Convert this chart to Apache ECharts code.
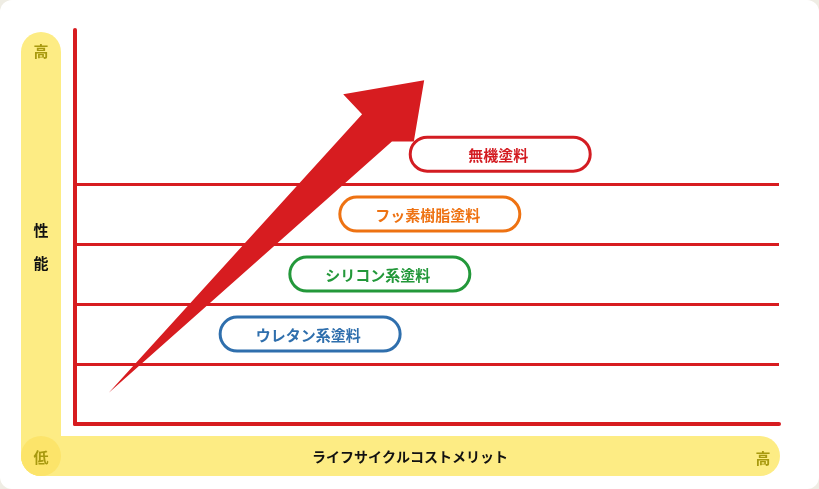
<!DOCTYPE html>
<html>
<head>
<meta charset="utf-8">
<script src="https://cdn.jsdelivr.net/npm/echarts@6/dist/echarts.min.js"></script>
<style>
  html, body { margin: 0; padding: 0; background: #efede4; }
  #main { width: 819px; height: 489px; background: #fff; border-radius: 12px; }
</style>
</head>
<body>
<div id="main"></div>
<script>
  // 塗料の種類（性能の低い順）
  var paintNames = ['ウレタン系塗料', 'シリコン系塗料', 'フッ素樹脂塗料', '無機塗料'];
  // x: ライフサイクルコストメリット(0-10), y: 性能
  var paintCost = [3.34, 4.33, 5.04, 6.04];
  var paintPerf = [1.5, 2.5, 3.5, 4.5];
  // 区切り線の位置
  var levelLines = [1, 2, 3, 4];
  // 矢印 始点→終点
  var arrowFrom = [0.48, 0.52];
  var arrowTo = [4.96, 5.73];

  var paintColors = ['#2f6fad', '#23983a', '#ee7212', '#d31c22'];
  var red = '#d71c20';
  var font = '"Noto Sans CJK JP", "Noto Sans", sans-serif';

  var myChart = echarts.init(document.getElementById('main'));

  // 矢印の形（先端方向の長さ445pxを基準にした輪郭）
  var arrowShape = [[0, 0], [379, 20.7], [394.5, 36.2], [445, 0], [377.5, -47.2], [376.8, -19.6]];

  function renderArrow(params, api) {
    var a = api.coord([api.value(0), api.value(1)]);
    var b = api.coord([api.value(2), api.value(3)]);
    var dx = b[0] - a[0], dy = b[1] - a[1];
    var len = Math.sqrt(dx * dx + dy * dy);
    var ux = dx / len, uy = dy / len, nx = -uy, ny = ux;
    var k = len / 445;
    var pts = arrowShape.map(function (p) {
      return [a[0] + (p[0] * ux + p[1] * nx) * k, a[1] + (p[0] * uy + p[1] * ny) * k];
    });
    return { type: 'polygon', shape: { points: pts }, style: { fill: red } };
  }

  function renderLabel(params, api) {
    var p = api.coord([api.value(0), api.value(1)]);
    var c = paintColors[params.dataIndex];
    return {
      type: 'group',
      children: [{
        type: 'rect',
        shape: { x: p[0] - 90, y: p[1] - 17, width: 180, height: 34, r: 17 },
        style: { fill: '#fff', stroke: c, lineWidth: 3 }
      }, {
        type: 'text',
        x: p[0] - 2, y: p[1] + 1,
        style: {
          text: paintNames[params.dataIndex], fill: c, font: 'bold 15px ' + font,
          align: 'center', verticalAlign: 'middle'
        }
      }]
    };
  }

  var labelData = paintNames.map(function (n, i) { return [paintCost[i], paintPerf[i]]; });

  var option = {
    animation: false,
    grid: { left: 75, right: 40, top: 30, bottom: 65 },
    xAxis: {
      type: 'value', min: 0, max: 10,
      axisLine: { lineStyle: { color: red, width: 4 } },
      axisTick: { show: false }, axisLabel: { show: false }, splitLine: { show: false }
    },
    yAxis: {
      type: 'value', min: 0, max: 6.57,
      axisLine: { show: true, lineStyle: { color: red, width: 4 } },
      axisTick: { show: false }, axisLabel: { show: false }, splitLine: { show: false }
    },
    graphic: [
      // 左の帯
      { type: 'rect', z: -1, shape: { x: 21, y: 32, width: 40, height: 444, r: 20 }, style: { fill: '#fdec84' } },
      // 下の帯
      { type: 'rect', z: -1, shape: { x: 21, y: 436, width: 759, height: 40, r: 20 }, style: { fill: '#fdec84' } },
      { type: 'circle', z: -1, shape: { cx: 41, cy: 456, r: 20 }, style: { fill: '#fce46a' } },
      { type: 'text', x: 41, y: 51, style: { text: '高', fill: '#a8990f', font: 'bold 15px ' + font, align: 'center', verticalAlign: 'middle' } },
      { type: 'text', x: 41, y: 457, style: { text: '低', fill: '#a8990f', font: 'bold 15px ' + font, align: 'center', verticalAlign: 'middle' } },
      { type: 'text', x: 763, y: 458, style: { text: '高', fill: '#a8990f', font: 'bold 15px ' + font, align: 'center', verticalAlign: 'middle' } },
      { type: 'text', x: 41, y: 230, style: { text: '性', fill: '#111', font: 'bold 15px ' + font, align: 'center', verticalAlign: 'middle' } },
      { type: 'text', x: 41, y: 263, style: { text: '能', fill: '#111', font: 'bold 15px ' + font, align: 'center', verticalAlign: 'middle' } },
      { type: 'text', x: 410, y: 457, style: { text: 'ライフサイクルコストメリット', fill: '#111', font: 'bold 14px ' + font, align: 'center', verticalAlign: 'middle' } }
    ],
    series: [{
      type: 'custom',
      coordinateSystem: 'cartesian2d',
      renderItem: renderArrow,
      encode: { x: [0, 2], y: [1, 3] },
      data: [[arrowFrom[0], arrowFrom[1], arrowTo[0], arrowTo[1]]],
      z: 3,
      markLine: {
        silent: true,
        symbol: 'none',
        label: { show: false },
        lineStyle: { color: red, width: 3, type: 'solid' },
        data: levelLines.map(function (v) { return { yAxis: v }; })
      }
    }, {
      type: 'custom',
      coordinateSystem: 'cartesian2d',
      renderItem: renderLabel,
      data: labelData,
      z: 5
    }]
  };

  myChart.setOption(option);
</script>
</body>
</html>
